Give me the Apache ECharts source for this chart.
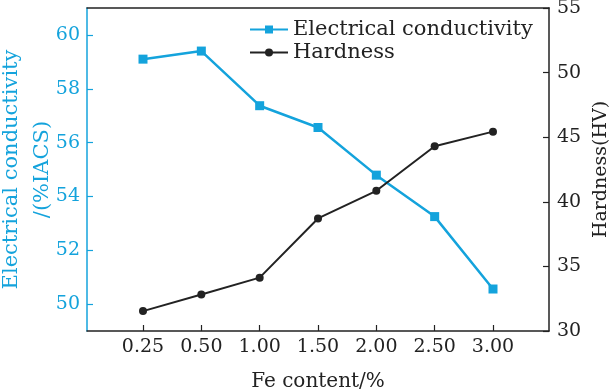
<!DOCTYPE html>
<html><head><meta charset="utf-8">
<script src="https://cdn.jsdelivr.net/npm/echarts@6/dist/echarts.min.js"></script>
<style>html,body{margin:0;padding:0;background:#fff}#c{width:615px;height:390px}</style>
</head><body><div id="c"></div>
<script>
const feCategories = ['0.25','0.50','1.00','1.50','2.00','2.50','3.00'];
const conductivity = [59.1, 59.4, 57.37, 56.56, 54.79, 53.25, 50.56];
const hardness = [31.54, 32.83, 34.13, 38.71, 40.85, 44.3, 45.43];
const leftTicks = [50, 52, 54, 56, 58, 60];
const rightTicks = [30, 35, 40, 45, 50, 55];

const BLUE = '#14a3dc';
const DARK = '#222';
const FONT = 'DejaVu Serif';
const pos = feCategories.map((c, i) => i + 1);

const chart = echarts.init(document.getElementById('c'), null, {renderer: 'canvas'});
chart.setOption({
  animation: false,
  backgroundColor: '#fff',
  grid: {left: 87, right: 66, top: 8, bottom: 59, containLabel: false, outerBoundsMode: 'none'},
  legend: {
    orient: 'vertical', left: 249, top: 19, padding: 0,
    itemWidth: 38, itemHeight: 10, itemGap: 2,
    textStyle: {fontFamily: FONT, fontSize: 21, color: DARK, lineHeight: 21},
    data: ['Electrical conductivity', 'Hardness']
  },
  xAxis: [{
    type: 'value', min: 0.04, max: 7.96,
    name: 'Fe content/%', nameLocation: 'middle', nameGap: 41, nameMoveOverlap: false,
    nameTextStyle: {fontFamily: FONT, fontSize: 20, color: DARK},
    axisLine: {show: true, lineStyle: {color: DARK, width: 1.5}},
    axisTick: {show: true, inside: true, length: 6, customValues: pos, lineStyle: {color: DARK, width: 1.2}},
    axisLabel: {customValues: pos, formatter: v => feCategories[Math.round(v) - 1] || '',
      fontFamily: FONT, fontSize: 19, color: DARK, margin: 7},
    splitLine: {show: false}
  }, {
    type: 'value', position: 'top', min: 0, max: 1,
    axisLine: {show: true, lineStyle: {color: DARK, width: 1.5}},
    axisTick: {show: false}, axisLabel: {show: false}, splitLine: {show: false}
  }],
  yAxis: [{
    type: 'value', min: 49, max: 61, position: 'left',
    name: 'Electrical conductivity\n/(%IACS)', nameLocation: 'middle', nameGap: 29, nameRotate: 90,
    nameMoveOverlap: false,
    nameTextStyle: {fontFamily: FONT, fontSize: 21, color: BLUE, lineHeight: 31},
    axisLine: {show: true, lineStyle: {color: BLUE, width: 1.5}},
    axisTick: {show: true, inside: true, length: 6, customValues: leftTicks, lineStyle: {color: BLUE, width: 1.2}},
    axisLabel: {customValues: leftTicks, fontFamily: FONT, fontSize: 19, color: BLUE, margin: 7},
    splitLine: {show: false}
  }, {
    type: 'value', min: 30, max: 55, interval: 5, position: 'right',
    name: 'Hardness(HV)', nameLocation: 'middle', nameGap: 43, nameRotate: 90, nameMoveOverlap: false,
    nameTextStyle: {fontFamily: FONT, fontSize: 19, color: DARK},
    axisLine: {show: true, lineStyle: {color: DARK, width: 1.5}},
    axisTick: {show: true, inside: true, length: 6, lineStyle: {color: DARK, width: 1.2}},
    axisLabel: {fontFamily: FONT, fontSize: 19, color: DARK, margin: 8},
    splitLine: {show: false}
  }],
  series: [{
    name: 'Electrical conductivity', type: 'line', xAxisIndex: 0, yAxisIndex: 0,
    data: conductivity.map((v, i) => [pos[i], v]),
    symbol: 'rect', symbolSize: 9,
    lineStyle: {color: BLUE, width: 2.5}, itemStyle: {color: BLUE}
  }, {
    name: 'Hardness', type: 'line', xAxisIndex: 0, yAxisIndex: 1,
    data: hardness.map((v, i) => [pos[i], v]),
    symbol: 'circle', symbolSize: 8,
    lineStyle: {color: DARK, width: 2}, itemStyle: {color: DARK}
  }]
});
</script></body></html>
